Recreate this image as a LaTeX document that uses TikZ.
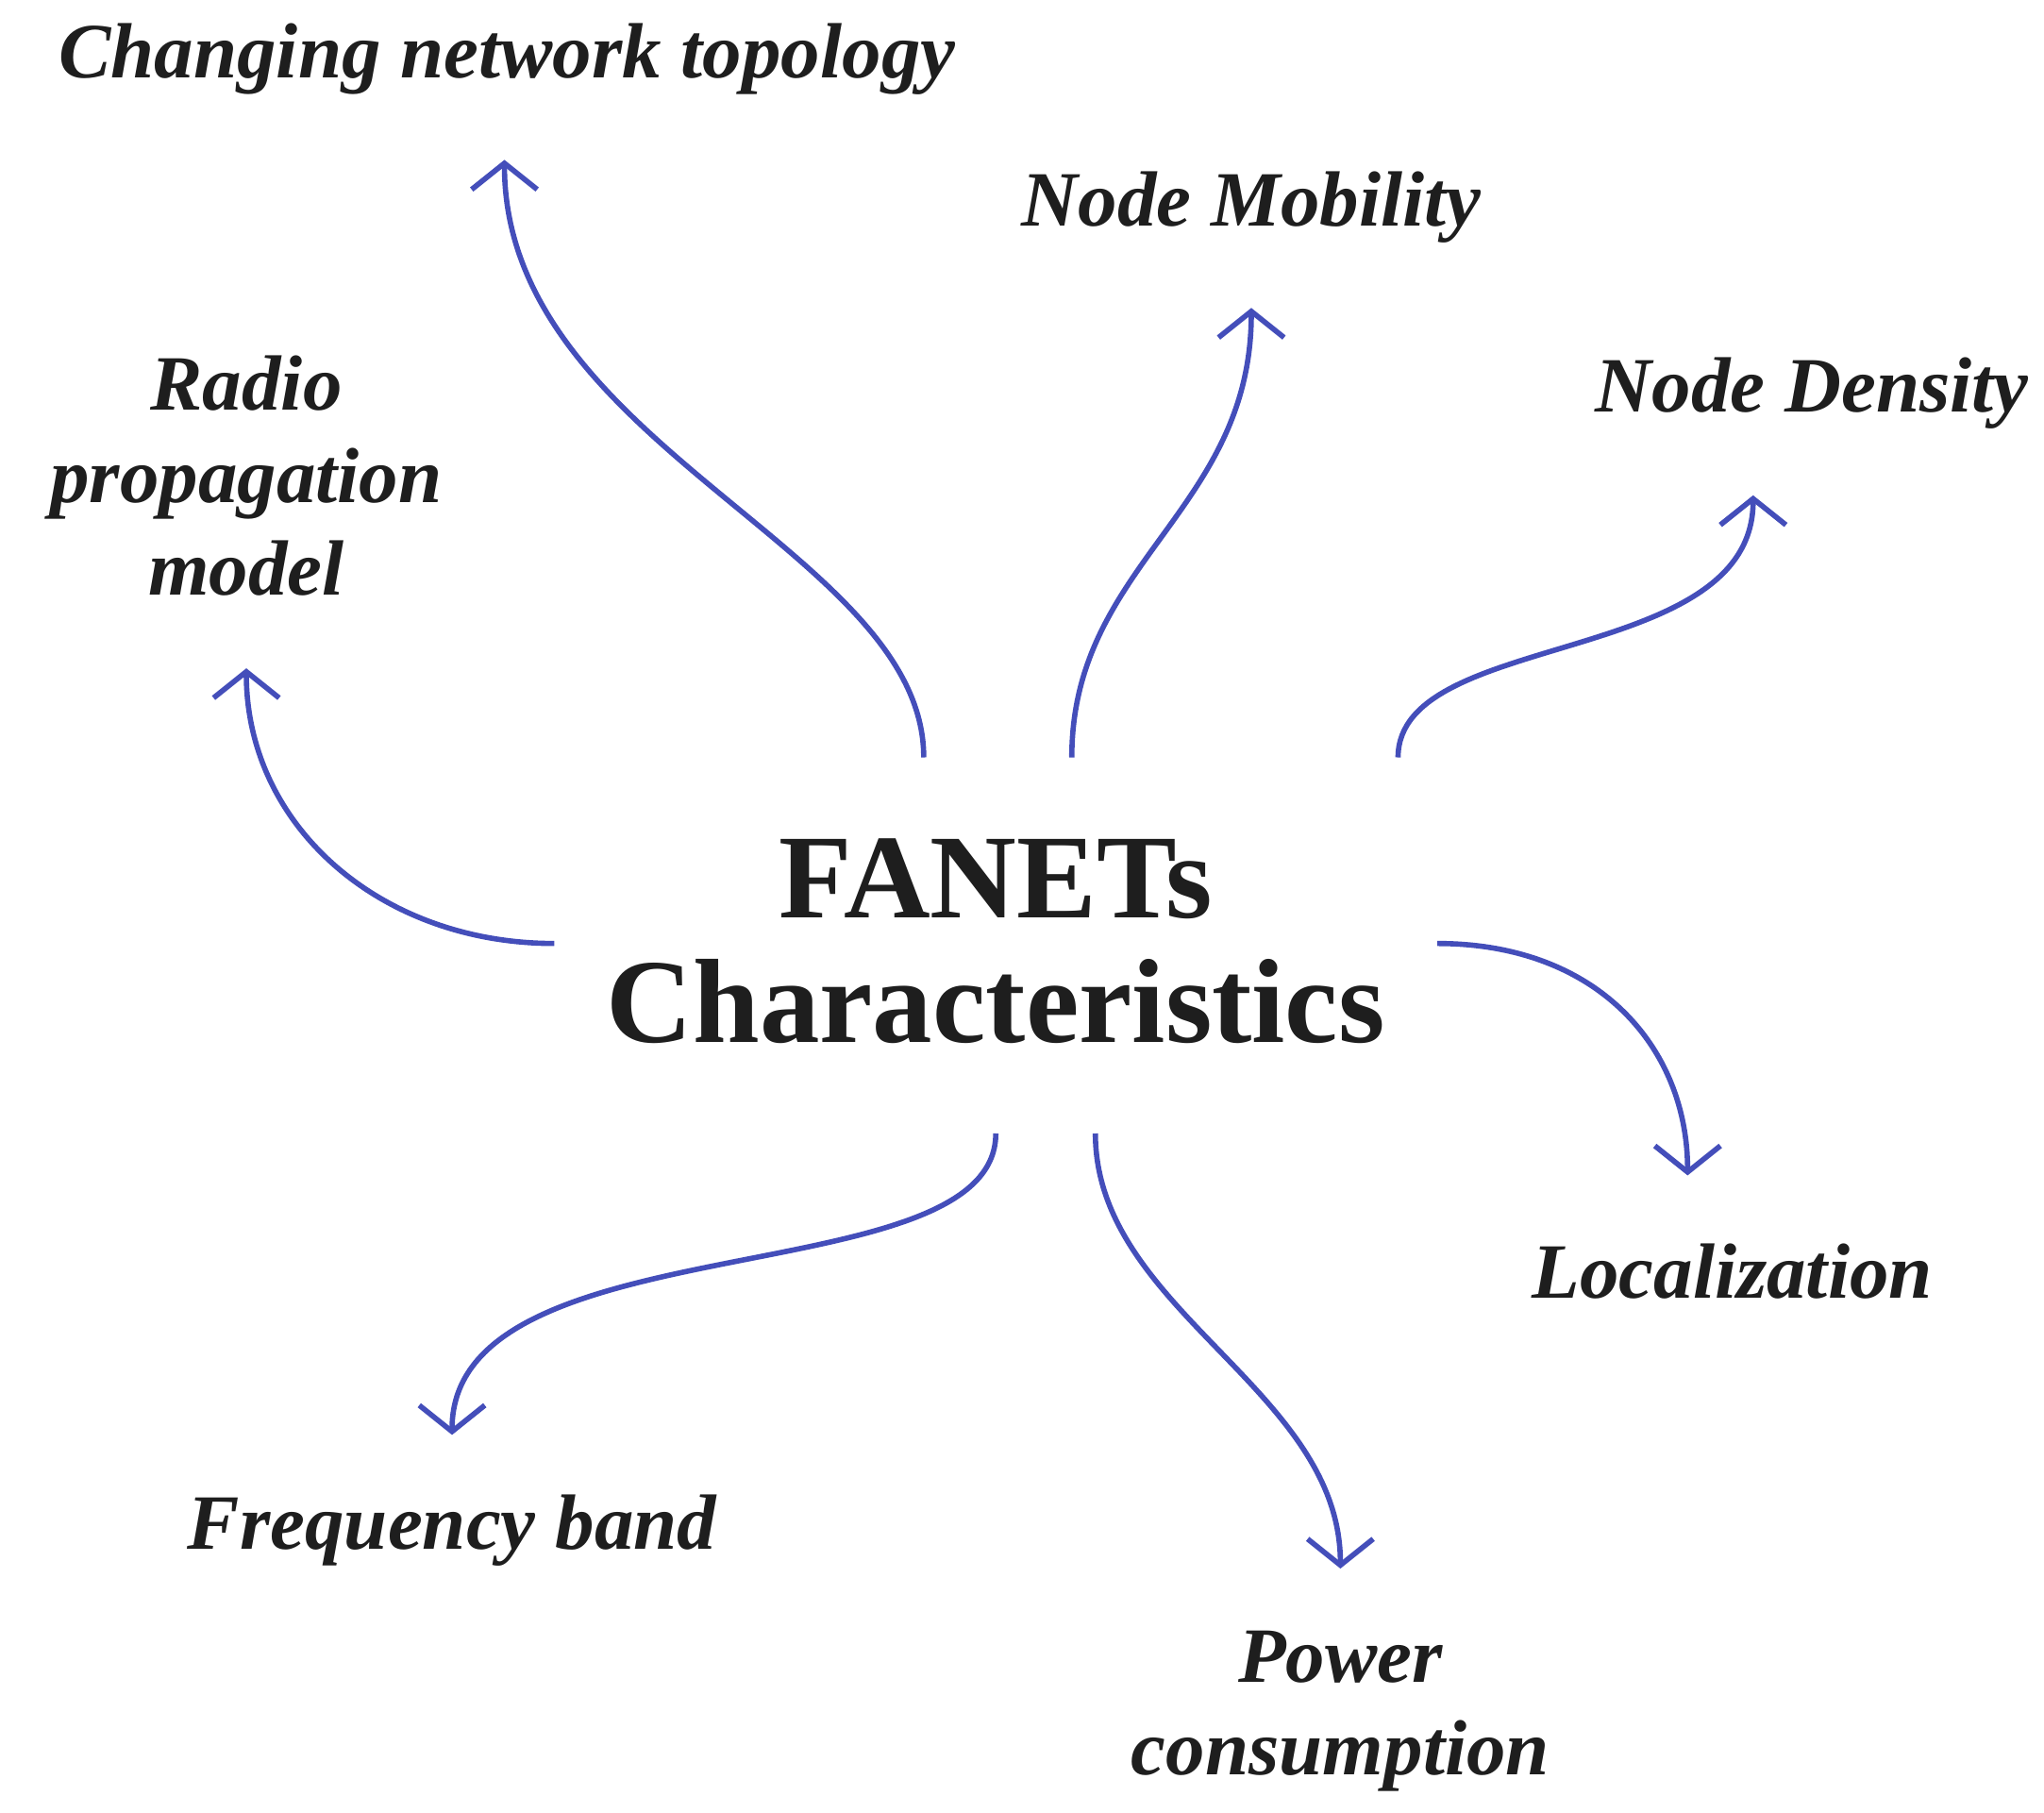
\documentclass[tikz,border=0pt]{standalone}
\usepackage{fontspec}
\setmainfont{Liberation Serif}
\usetikzlibrary{arrows.meta}
\definecolor{arr}{RGB}{68,78,186}
\definecolor{txt}{RGB}{30,30,30}
\begin{document}
\begin{tikzpicture}[x=0.01cm,y=-0.01cm,
  lab/.style={font=\fontsize{17}{20}\selectfont\bfseries\itshape,text=txt,align=center,inner sep=0pt},
  conn/.style={draw=arr,line width=1.15pt,-{Straight Barb[length=0.2cm,width=0.5cm,line width=1.15pt]}}]
\useasboundingbox (0,0) rectangle (1560,1383);
\node[font=\fontsize{26}{27}\selectfont\bfseries,text=txt,align=center,inner sep=0pt] (c) at (760,718) {FANETs\\Characteristics};
\node[lab] (t1) at (387,45) {Changing network topology};
\node[lab] (t2) at (955,158) {Node Mobility};
\node[lab] (t3) at (1383,300) {Node Density};
\node[lab] (t4) at (188,363) {Radio\\propagation\\model};
\node[lab] (t5) at (1322,970) {Localization};
\node[lab] (t6) at (345,1168) {Frequency band};
\node[lab] (t7) at (1023,1306) {Power\\consumption};
\coordinate (s1) at (705,578); \coordinate (e1) at (385,122);
\coordinate (s2) at (818,578); \coordinate (e2) at (955,235);
\coordinate (s3) at (1067,578); \coordinate (e3) at (1338,378);
\coordinate (s4) at (423,720); \coordinate (e4) at (188,510);
\coordinate (s5) at (1097,720); \coordinate (e5) at (1288,897);
\coordinate (s6) at (760,865); \coordinate (e6) at (345,1095);
\coordinate (s7) at (836,865); \coordinate (e7) at (1023,1197);
\draw[conn] (s1) .. controls (705,420) and (385,340) .. (e1);
\draw[conn] (s2) .. controls (818,430) and (955,390) .. (e2);
\draw[conn] (s3) .. controls (1067,480) and (1338,510) .. (e3);
\draw[conn] (s4) .. controls (290,720) and (188,630) .. (e4);
\draw[conn] (s5) .. controls (1220,720) and (1288,800) .. (e5);
\draw[conn] (s6) .. controls (760,990) and (345,930) .. (e6);
\draw[conn] (s7) .. controls (836,1000) and (1023,1060) .. (e7);
\end{tikzpicture}
\end{document}
